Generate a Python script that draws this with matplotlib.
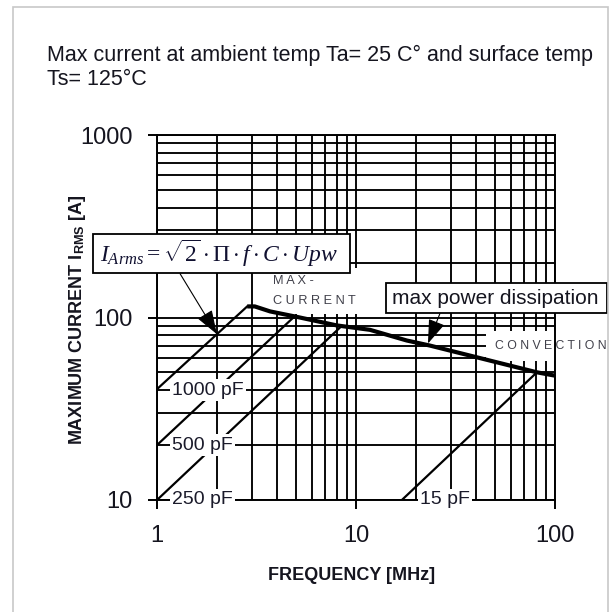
import matplotlib
matplotlib.use('Agg')
import matplotlib.pyplot as plt
from matplotlib.patches import Rectangle
from matplotlib.ticker import FixedLocator, LogLocator, NullFormatter

plt.rcParams['font.family'] = ['Liberation Sans', 'DejaVu Sans']
plt.rcParams['mathtext.fontset'] = 'custom'
plt.rcParams['mathtext.rm'] = 'Liberation Serif'
plt.rcParams['mathtext.it'] = 'Liberation Serif:italic'
plt.rcParams['mathtext.sf'] = 'Liberation Sans:bold'

# max current curve (power dissipation limit)
max_freq = [2.84, 3.1, 3.7, 5.0, 8.0, 11.75, 18.0, 23.5, 47.0, 81.0, 100.0]
max_curr = [115, 115, 108, 101, 90.5, 85.6, 74.8, 70.2, 58.1, 50.1, 48.0]

# capacitance lines: start / end points
cap_labels = ['1000 pF', '500 pF', '250 pF', '15 pF']
cap_f0 = [1, 1, 1, 17]
cap_i0 = [40.5, 20, 10, 10]
cap_f1 = [2.84, 4.94, 8.3, 81]
cap_i1 = [115, 102, 88, 50]
cap_label_x = [1.19, 1.19, 1.19, 21]
cap_label_y = [40, 20, 10, 10]

x_ticks = [1, 10, 100]
x_tick_labels = ['1', '10', '100']
y_ticks = [10, 100, 1000]
y_tick_labels = ['10', '100', '1000']

W, H = 613, 612
def fx(px):
    return px / W
def fy(py):
    return 1 - py / H

fig = plt.figure(figsize=(W / 100, H / 100), dpi=100)
ax = fig.add_axes([fx(157), fy(500), fx(555) - fx(157), fy(135) - fy(500)])

ax.set_xscale('log')
ax.set_yscale('log')
ax.set_xlim(1, 100)
ax.set_ylim(10, 1000)
ax.xaxis.set_major_locator(FixedLocator(x_ticks))
ax.set_xticklabels(x_tick_labels)
ax.yaxis.set_major_locator(FixedLocator(y_ticks))
ax.set_yticklabels(y_tick_labels)
ax.xaxis.set_minor_locator(LogLocator(subs=range(2, 10)))
ax.yaxis.set_minor_locator(LogLocator(subs=range(2, 10)))
ax.xaxis.set_minor_formatter(NullFormatter())
ax.yaxis.set_minor_formatter(NullFormatter())
ax.grid(True, which='both', color='black', lw=1.35)
ax.set_axisbelow(True)
ax.tick_params(which='minor', length=0)
ax.tick_params(which='major', length=6.5, width=1.4, direction='out',
               labelsize=17, labelcolor='#15151f')
ax.tick_params(axis='x', pad=11.5)
ax.tick_params(axis='y', pad=10.8)
for s in ax.spines.values():
    s.set_linewidth(1.4)

# curves
ax.plot(max_freq, max_curr, color='black', lw=3, zorder=2.2, solid_capstyle='butt')
for f0, i0, f1, i1 in zip(cap_f0, cap_i0, cap_f1, cap_i1):
    ax.plot([f0, f1], [i0, i1], color='black', lw=1.6, zorder=2)

for lab, lx, ly in zip(cap_labels, cap_label_x, cap_label_y):
    ax.text(lx, ly, lab, fontsize=14, color='#1a1a2a', va='center', ha='left',
            zorder=3, bbox=dict(boxstyle='square,pad=0.12', fc='white', ec='none'))

# MAX-CURRENT and CONVECTION labels
ax.text(fx(273), fy(291), 'M A X -\nC U R R E N T', transform=fig.transFigure,
        fontsize=9.2, color='#40404a', ha='left', va='center', linespacing=1.8,
        zorder=1.5, bbox=dict(boxstyle='square,pad=0.6', fc='white', ec='none'))
ax.text(fx(495), fy(346), 'C O N V E C T I O N', transform=fig.transFigure,
        fontsize=8.8, color='#40404a', ha='left', va='center',
        zorder=1.5, bbox=dict(boxstyle='square,pad=0.7', fc='white', ec='none'))

# formula box
ax.add_patch(Rectangle((fx(93), fy(273)), fx(350) - fx(93), fy(234) - fy(273),
                       transform=fig.transFigure, fc='white', ec='black', lw=1.3,
                       zorder=5, clip_on=False))
ax.text(fx(100), fy(253), r'$I_{Arms} = \sqrt{2}\cdot\Pi\cdot f\cdot C\cdot Upw$',
        transform=fig.transFigure, fontsize=17, color='#101030', ha='left',
        va='center', zorder=6)
ax.annotate('', xy=(2.0, 81), xytext=(1.305, 174),
            arrowprops=dict(arrowstyle='-|>,head_length=1.0,head_width=0.35',
                            mutation_scale=15, lw=0.8, color='black',
                            shrinkA=0, shrinkB=0), zorder=4)

# max power dissipation box
ax.add_patch(Rectangle((fx(386), fy(313)), fx(607) - fx(386), fy(283) - fy(313),
                       transform=fig.transFigure, fc='white', ec='black', lw=1.3,
                       zorder=5, clip_on=False))
ax.text(fx(392), fy(298), 'max power dissipation', transform=fig.transFigure,
        fontsize=15, color='#15151f', ha='left', va='center', zorder=6)
ax.annotate('', xy=(23.0, 72), xytext=(26.4, 105),
            arrowprops=dict(arrowstyle='-|>,head_length=1.0,head_width=0.35',
                            mutation_scale=15, lw=0.8, color='black',
                            shrinkA=0, shrinkB=0), zorder=4)

# titles and axis labels
fig.text(fx(47), fy(45), 'Max current at ambient temp Ta= 25 C\u00b0 and surface temp\nTs= 125\u00b0C',
         fontsize=15.5, color='#15151f', ha='left', va='top', linespacing=1.15)
fig.text(fx(352), fy(575), 'FREQUENCY [MHz]', fontsize=13, fontweight='bold',
         color='#15151f', ha='center', va='center')
fig.text(fx(77), fy(320), r'MAXIMUM CURRENT I$_{\mathsf{RMS}}$ [A]', fontsize=13,
         fontweight='bold', color='#15151f', ha='center', va='center', rotation=90)

# outer frame
fig.add_artist(Rectangle((fx(13), fy(640)), fx(608) - fx(13), fy(7) - fy(640),
                         transform=fig.transFigure, fill=False, ec='#c8c8c8', lw=1.2))

fig.savefig('out.png', dpi=100)
